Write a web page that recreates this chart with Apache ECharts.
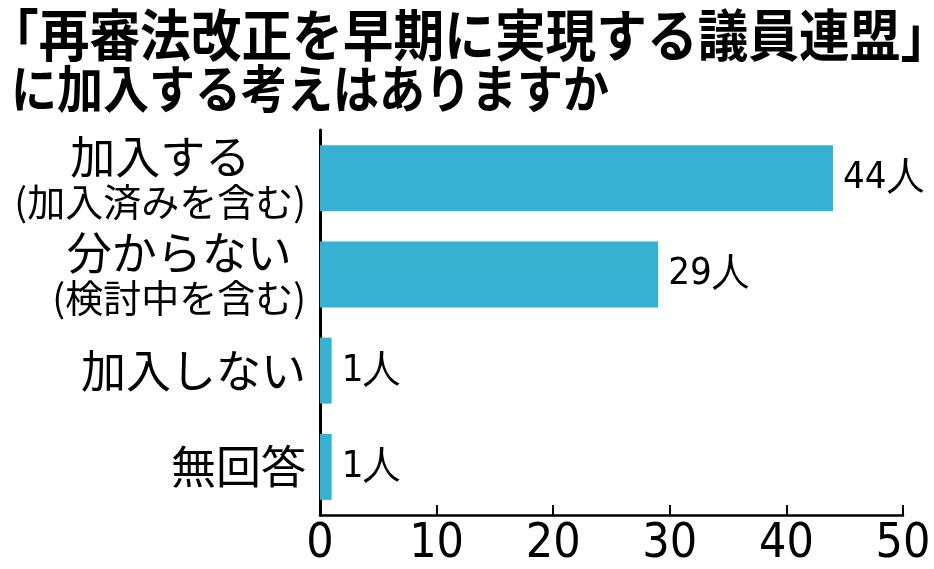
<!DOCTYPE html>
<html><head><meta charset="utf-8">
<script src="https://cdn.jsdelivr.net/npm/echarts@6/dist/echarts.min.js"></script>
<style>html,body{margin:0;padding:0;background:#fff}#c{width:934px;height:569px}</style>
</head><body><div id="c"></div>
<script>
const titleLines = ['「再審法改正を早期に実現する議員連盟」', 'に加入する考えはありますか'];
const categories = ['加入する', '分からない', '加入しない', '無回答'];
const subLabels = ['(加入済みを含む)', '(検討中を含む)', '', ''];
const values = [44, 29, 1, 1];
const unit = '人';
const xMin = 0, xMax = 50, xStep = 10;

const JP = '"Noto Sans CJK JP", "Noto Sans CJK SC", sans-serif';
const NARROW = '"Liberation Sans Narrow", "DejaVu Sans Condensed", "Roboto Condensed", "Liberation Sans", sans-serif';

const chart = echarts.init(document.getElementById('c'), null, {renderer: 'canvas'});
chart.setOption({
  backgroundColor: '#fff',
  animation: false,
  graphic: [{
    type: 'text', left: -12, top: 7, scaleY: 1.1, originX: 0, originY: 0,
    style: {text: titleLines[0], fill: '#000', font: 'bold 50.7px ' + JP}
  }, {
    type: 'text', left: 11, top: 63, scaleY: 1.1, originX: 0, originY: 0,
    style: {text: titleLines[1], fill: '#000', font: 'bold 46px ' + JP}
  }],
  grid: {left: 320, right: 31, top: 130, bottom: 53, containLabel: false},
  xAxis: {
    type: 'value', min: xMin, max: xMax, interval: xStep,
    axisLine: {show: true, lineStyle: {color: '#000', width: 2.5}},
    axisTick: {show: true, inside: true, length: 10, lineStyle: {color: '#000', width: 2}},
    splitLine: {show: false},
    axisLabel: {color: '#000', fontSize: 48, fontFamily: NARROW, margin: 6}
  },
  yAxis: {
    type: 'category', inverse: true, data: categories,
    axisLine: {show: true, lineStyle: {color: '#000', width: 3}},
    axisTick: {show: false},
    axisLabel: {
      margin: 14,
      formatter: function (v, i) {
        return subLabels[i] ? '{m|' + v + '}\n{s|' + subLabels[i] + '}' : '{m|' + v + '}';
      },
      rich: {
        m: {fontSize: 45, fontFamily: JP, color: '#000', lineHeight: 46, align: 'center'},
        s: {fontSize: 38, fontFamily: JP, color: '#000', lineHeight: 42, align: 'center'}
      }
    }
  },
  series: [{
    type: 'bar', data: values, barWidth: 66,
    itemStyle: {color: '#37b1d1'},
    label: {show: true, position: 'right', distance: 10, formatter: '{c}' + unit,
      color: '#000', fontSize: 38, fontFamily: NARROW}
  }]
});
</script></body></html>
